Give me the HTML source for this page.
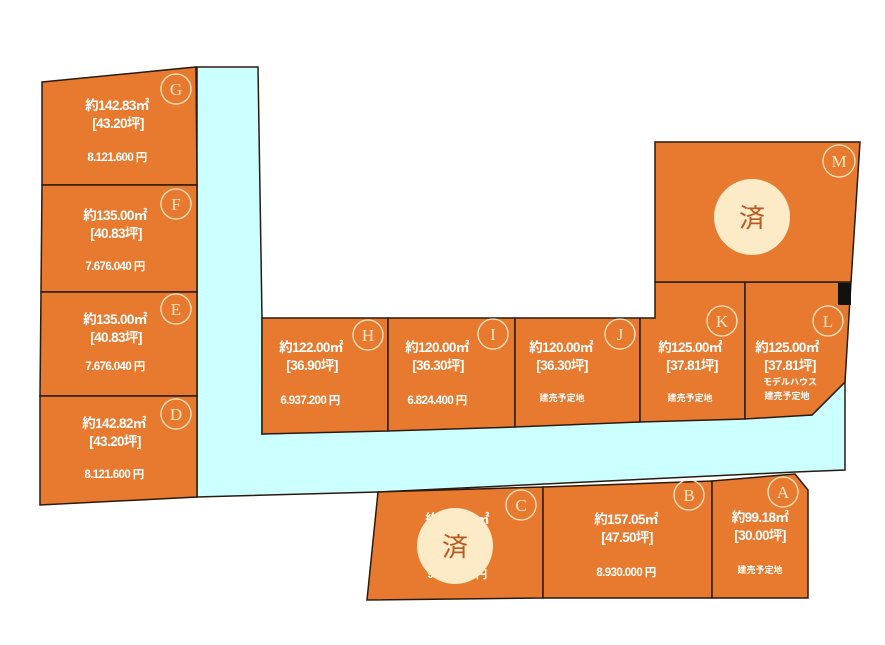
<!DOCTYPE html>
<html><head><meta charset="utf-8"><style>
html,body{margin:0;padding:0;background:#fff;}
svg{display:block}
text{font-family:"Liberation Sans","Noto Sans CJK JP",sans-serif;fill:#fff;}
.a{font-size:13.5px;letter-spacing:-0.6px;font-weight:bold}
.p{font-size:11.5px;letter-spacing:-0.6px;font-weight:bold}
.s{font-size:9px;font-weight:bold}
.c{fill:none;stroke:#fde6c4;stroke-width:1.3}
.l{font-family:"Liberation Serif",serif;font-size:17px;fill:#fde6c4}
</style></head><body>
<svg width="885" height="645" viewBox="0 0 885 645" xmlns="http://www.w3.org/2000/svg">
<g stroke="#2a1a10" stroke-width="1.5">
<polygon fill="#ccffff" points="197,67 258,67 262,318 262,434 812,415 845,382 845,470 795,472 378,492 197,497"/>
<g fill="#e87a30">
<polygon points="42,82 196,67 197,185 42,185"/>
<polygon points="42,185 197,185 197,292 41,292"/>
<polygon points="41,292 197,292 197,396 40,396"/>
<polygon points="40,396 197,396 197,497 40,505"/>
<polygon points="262,318 388,318 388,431 262,434"/>
<polygon points="388,318 515,318 515,427 388,431"/>
<polygon points="515,318 640,318 640,422 515,427"/>
<polygon points="640,318 655,318 655,282 745,282 745,419 640,422"/>
<polygon points="745,282 851,282 845,382 812,415 745,419"/>
<polygon points="655,142 860,142 851,282 655,282"/>
<polygon points="378,492 543,487 543,598 367,600"/>
<polygon points="543,487 712,481 712,598 543,598"/>
<polygon points="712,481 795,474 808,490 808,598 712,598"/>
</g>
</g>
<rect x="838" y="283" width="13" height="22" fill="#111"/>
<circle cx="752" cy="217" r="38" fill="#fdebc8"/>
<text x="752" y="227" text-anchor="middle" style="font-size:26px;fill:#b85a20">済</text>
<g>
<circle class="c" cx="176" cy="89" r="15"/><text class="l" x="176" y="95" text-anchor="middle">G</text>
<circle class="c" cx="176" cy="204" r="15"/><text class="l" x="176" y="210" text-anchor="middle">F</text>
<circle class="c" cx="176" cy="309" r="15"/><text class="l" x="176" y="315" text-anchor="middle">E</text>
<circle class="c" cx="176" cy="414" r="15"/><text class="l" x="176" y="420" text-anchor="middle">D</text>
<circle class="c" cx="368" cy="335" r="15"/><text class="l" x="368" y="341" text-anchor="middle">H</text>
<circle class="c" cx="493" cy="334" r="15"/><text class="l" x="493" y="340" text-anchor="middle">I</text>
<circle class="c" cx="620" cy="334" r="15"/><text class="l" x="620" y="340" text-anchor="middle">J</text>
<circle class="c" cx="722" cy="321" r="15"/><text class="l" x="722" y="327" text-anchor="middle">K</text>
<circle class="c" cx="828" cy="321" r="15"/><text class="l" x="828" y="327" text-anchor="middle">L</text>
<circle class="c" cx="839" cy="161" r="16"/><text class="l" x="839" y="167" text-anchor="middle">M</text>
<circle class="c" cx="521" cy="505" r="15"/><text class="l" x="521" y="511" text-anchor="middle">C</text>
<circle class="c" cx="689" cy="495" r="15"/><text class="l" x="689" y="501" text-anchor="middle">B</text>
<circle class="c" cx="783" cy="492" r="15"/><text class="l" x="783" y="498" text-anchor="middle">A</text>
</g>
<g text-anchor="middle">
<text class="a" x="117" y="110">約142.83㎡</text><text class="a" x="118" y="128">[43.20坪]</text><text class="p" x="117" y="161">8.121.600 円</text>
<text class="a" x="115" y="220">約135.00㎡</text><text class="a" x="116" y="238">[40.83坪]</text><text class="p" x="115" y="270">7.676.040 円</text>
<text class="a" x="115" y="324">約135.00㎡</text><text class="a" x="116" y="342">[40.83坪]</text><text class="p" x="115" y="370">7.676.040 円</text>
<text class="a" x="114" y="428">約142.82㎡</text><text class="a" x="115" y="446">[43.20坪]</text><text class="p" x="114" y="478">8.121.600 円</text>
<text class="a" x="311" y="352">約122.00㎡</text><text class="a" x="312" y="370">[36.90坪]</text><text class="p" x="310" y="404">6.937.200 円</text>
<text class="a" x="437" y="352">約120.00㎡</text><text class="a" x="438" y="370">[36.30坪]</text><text class="p" x="437" y="404">6.824.400 円</text>
<text class="a" x="561" y="352">約120.00㎡</text><text class="a" x="562" y="370">[36.30坪]</text><text class="s" x="562" y="401">建売予定地</text>
<text class="a" x="690" y="352">約125.00㎡</text><text class="a" x="692" y="370">[37.81坪]</text><text class="s" x="690" y="401">建売予定地</text>
<text class="a" x="787" y="352">約125.00㎡</text><text class="a" x="790" y="370">[37.81坪]</text><text class="s" x="790" y="385">モデルハウス</text><text class="s" x="787" y="399">建売予定地</text>
<text class="a" x="457" y="524">約157.00㎡</text><text class="p" x="457" y="578">9.000.000 円</text>
<text class="a" x="626" y="524">約157.05㎡</text><text class="a" x="627" y="542">[47.50坪]</text><text class="p" x="626" y="576">8.930.000 円</text>
<text class="a" x="760" y="522">約99.18㎡</text><text class="a" x="760" y="540">[30.00坪]</text><text class="s" x="760" y="573">建売予定地</text>
</g>
<circle cx="455" cy="546" r="38" fill="#fdebc8"/>
<text x="455" y="556" text-anchor="middle" style="font-size:26px;fill:#b85a20">済</text>
</svg>
</body></html>
